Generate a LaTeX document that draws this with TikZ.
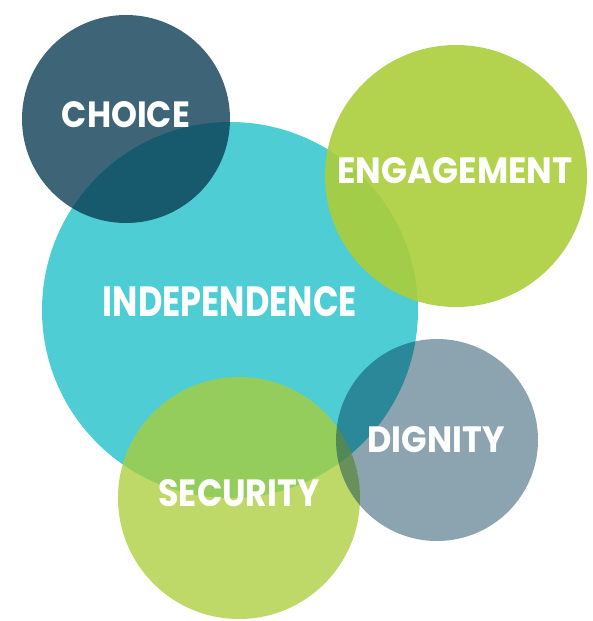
\documentclass[tikz,border=0pt]{standalone}
\usepackage{fontspec}
\setmainfont{Poppins}
\definecolor{cyanc}{RGB}{78,205,212}
\definecolor{darkc}{RGB}{8,58,81}
\definecolor{slatec}{RGB}{0,53,80}
\definecolor{greenc}{RGB}{171,206,58}
\tikzset{
  circ/.style={circle, inner sep=0pt, minimum size=#1},
  lbl/.style={text=white, inner sep=0pt, font=\bfseries}
}
\newcommand{\lab}[3]{\resizebox{#1pt}{#2pt}{#3}}
\begin{document}
\begin{tikzpicture}[x=1pt,y=-1pt]
\useasboundingbox[fill=white] (0,0) rectangle (592,621);
\node[circ=376pt, fill=cyanc] (indep) at (230,310) {};
\node[circ=208pt, fill=darkc, fill opacity=0.78] (choice) at (126,119) {};
\node[circ=262pt, fill=greenc, fill opacity=0.9] (engage) at (456,176) {};
\node[circ=242pt, fill=greenc, fill opacity=0.77] (secur) at (239,498) {};
\node[circ=202pt, fill=slatec, fill opacity=0.45] (dign) at (437,440) {};
\node[lbl] (tchoice) at (126,115) {\lab{128}{26}{CHOICE}};
\node[lbl] (tengage) at (455,171) {\lab{235}{26}{ENGAGEMENT}};
\node[lbl] (tindep) at (230,302) {\lab{254}{30}{INDEPENDENCE}};
\node[lbl] (tdign) at (436,440) {\lab{137}{26}{DIGNITY}};
\node[lbl] (tsecur) at (239,493) {\lab{161}{27}{SECURITY}};
\end{tikzpicture}
\end{document}
